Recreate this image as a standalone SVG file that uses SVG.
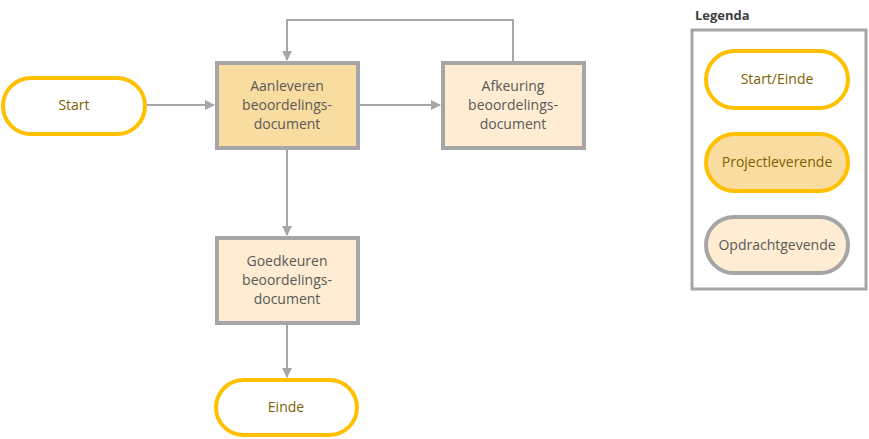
<svg xmlns="http://www.w3.org/2000/svg" width="869" height="439" viewBox="0 0 869 439">
<defs>
<style>
text{font-family:"Open Sans","Liberation Sans",sans-serif;font-size:14px;text-anchor:middle}
.t{fill:#595959}
.b{fill:#7F6000}
.term{fill:#FFFFFF;stroke:#FFC000;stroke-width:4}
.proj{fill:#F9DC9F;stroke:#A6A6A6;stroke-width:4}
.opd{fill:#FEEDD2;stroke:#A6A6A6;stroke-width:4}
.lproj{fill:#F9DC9F;stroke:#FFC000;stroke-width:4}
.lopd{fill:#FEEDD2;stroke:#A6A6A6;stroke-width:4}
.c{fill:none;stroke:#A6A6A6;stroke-width:2}
</style>
<marker id="ah" markerWidth="10" markerHeight="10" refX="9" refY="5" orient="auto" markerUnits="userSpaceOnUse">
<path d="M0,0 L10,5 L0,10 Z" fill="#A6A6A6"/>
</marker>
</defs>
<rect width="869" height="439" fill="#FFFFFF"/>
<g id="connectors">
<path class="c" d="M145,105 H214" marker-end="url(#ah)"/>
<path class="c" d="M358,105 H440" marker-end="url(#ah)"/>
<path class="c" d="M513,62 V20 H287 V60" marker-end="url(#ah)"/>
<path class="c" d="M287,148 V235" marker-end="url(#ah)"/>
<path class="c" d="M287,324 V377" marker-end="url(#ah)"/>
</g>
<g id="start">
<rect class="term" x="3" y="78" width="142" height="56" rx="28"/>
<text class="b" x="74" y="110">Start</text>
</g>
<g id="aanleveren">
<rect class="proj" x="217" y="63" width="141" height="85"/>
<text class="t" x="287" y="91">Aanleveren</text>
<text class="t" x="287" y="110">beoordelings-</text>
<text class="t" x="287" y="129">document</text>
</g>
<g id="afkeuring">
<rect class="opd" x="443" y="63" width="141" height="85"/>
<text class="t" x="513" y="91">Afkeuring</text>
<text class="t" x="513" y="110">beoordelings-</text>
<text class="t" x="513" y="129">document</text>
</g>
<g id="goedkeuren">
<rect class="opd" x="217" y="238" width="141" height="85"/>
<text class="t" x="287" y="266">Goedkeuren</text>
<text class="t" x="287" y="285">beoordelings-</text>
<text class="t" x="287" y="304">document</text>
</g>
<g id="einde">
<rect class="term" x="216" y="380" width="141" height="55" rx="27.5"/>
<text class="b" x="286" y="412">Einde</text>
</g>
<g id="legenda">
<text x="695" y="20" style="text-anchor:start;font-weight:bold;fill:#404040;font-size:13px">Legenda</text>
<rect x="692" y="30" width="174" height="259" fill="#FFFFFF" stroke="#A6A6A6" stroke-width="3"/>
<rect class="term" x="706" y="51" width="142" height="57" rx="28.5"/>
<text class="b" x="777" y="84">Start/Einde</text>
<rect class="lproj" x="706" y="134" width="142" height="57" rx="28.5"/>
<text class="b" x="777" y="167">Projectleverende</text>
<rect class="lopd" x="706" y="217" width="142" height="56" rx="28"/>
<text class="t" x="777" y="250">Opdrachtgevende</text>
</g>
</svg>
